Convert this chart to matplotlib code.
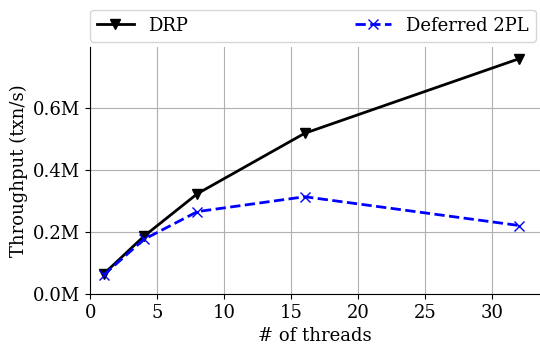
import matplotlib
matplotlib.use("Agg")
import matplotlib.pyplot as plt
from matplotlib.ticker import FuncFormatter

plt.rcParams['font.family'] = ['DejaVu Serif']

threads = [1, 4, 8, 16, 32]
drp = [0.064, 0.186, 0.324, 0.519, 0.760]
deferred_2pl = [0.061, 0.176, 0.266, 0.314, 0.221]

fig = plt.figure(figsize=(5.4, 3.45), dpi=100)
ax = fig.add_axes([0.167, 0.148, 0.833, 0.716])

ax.plot(threads, drp, color='black', linestyle='-', marker='v', linewidth=2, markersize=7, label='DRP')
ax.plot(threads, deferred_2pl, color='blue', linestyle='--', marker='x', linewidth=2, markersize=7, label='Deferred 2PL')

ax.set_xlim(0, 33.55)
ax.set_ylim(0, 0.798)
ax.set_yticks([0, 0.2, 0.4, 0.6])
ax.yaxis.set_major_formatter(FuncFormatter(lambda v, p: f'{v:.1f}M'))
ax.set_xticks([0, 5, 10, 15, 20, 25, 30])
ax.grid(True, color='#b0b0b0', linewidth=0.8)
ax.set_axisbelow(True)
for s in ['top', 'right']:
    ax.spines[s].set_visible(False)
ax.tick_params(labelsize=13)
ax.set_xlabel('# of threads', fontsize=13, labelpad=4)
ax.set_ylabel('Throughput (txn/s)', fontsize=13)

ax.legend(loc='lower left', bbox_to_anchor=(0, 1.02, 0.99, 0.2), mode='expand', ncol=2,
          borderaxespad=0, fontsize=13, handlelength=2.0)

fig.savefig('out.png', dpi=100)
